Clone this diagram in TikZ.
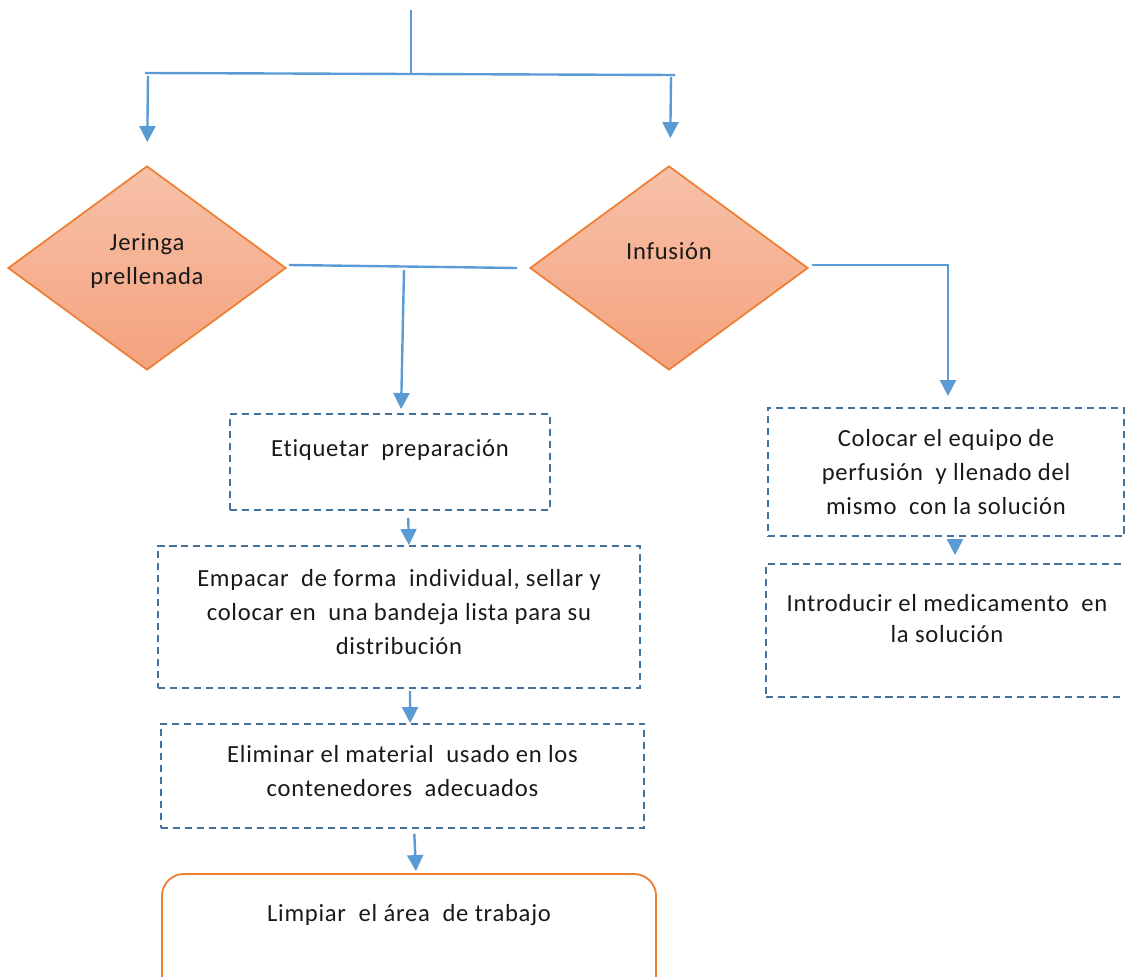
\documentclass[tikz,border=0pt]{standalone}
\usepackage{fontspec}
\setmainfont{Carlito}[Ligatures=CommonOff, LetterSpace=3]
\usetikzlibrary{
  arrows.meta,
  positioning,
  shapes.geometric
}
\definecolor{flow}{RGB}{91,155,213}
\definecolor{dashline}{RGB}{65,113,156}
\definecolor{accent}{RGB}{237,125,49}
\definecolor{fillhi}{RGB}{247,193,169}
\definecolor{filllo}{RGB}{244,162,125}

\begin{document}
\begin{tikzpicture}[
  x=0.025cm, y=-0.025cm,
  every node/.style={font=\fontsize{17.5}{24.5}\selectfont},
  decision/.style={diamond, draw=accent, line width=1.2pt, top color=fillhi, bottom color=filllo,
    minimum width=6.95cm, minimum height=5.1cm, inner sep=0pt},
  task/.style={draw=dashline, line width=1.3pt, dash pattern=on 5pt off 3.5pt},
  final/.style={draw=accent, line width=1.3pt, rounded corners=0.55cm},
  txt/.style={align=center, text=black!90},
  link/.style={draw=flow, line width=1.7pt},
  arr/.style={link, -{Triangle[width=0.4cm,length=0.4cm]}}
]
\clip (0,0) rectangle (1125,977);

% split at the top
\coordinate (top) at (411,10);
\coordinate (split) at (411,74);
\coordinate (hl) at (145,73);
\coordinate (hr) at (675,75);

\node[decision, label={[txt,yshift=0.175cm]center:{Jeringa\\prellenada}}] (syringe) at (147,268) {};
\node[decision, label={[txt,yshift=0.425cm]center:{Infusión}}] (infusion) at (669,268) {};

% left branch
\node[task, minimum width=8cm, minimum height=2.4cm,
  label={[txt,yshift=0.3cm]center:{Etiquetar\ \ preparación}}] (label) at (390,462) {};
\node[task, minimum width=12.05cm, minimum height=3.55cm,
  label={[txt,yshift=0.125cm]center:{Empacar\ \ de forma\ \ individual, sellar y\\colocar en\ \ una bandeja lista para su\\distribución}}] (pack) at (399,617) {};
\node[task, minimum width=12.075cm, minimum height=2.6cm,
  label={[txt,yshift=0.125cm]center:{Eliminar el material\ \ usado en los\\contenedores\ \ adecuados}}] (waste) at (402.5,776) {};
\node[final, minimum width=12.35cm, minimum height=3.4cm,
  label={[txt,yshift=0.675cm]center:{Limpiar\ \ el área\ \ de trabajo}}] (clean) at (409,942) {};

% right branch
\node[task, minimum width=8.9cm, minimum height=3.2cm,
  label={[txt]center:{Colocar el equipo de\\perfusión\ \ y llenado del\\mismo\ \ con la solución}}] (setup) at (946,472) {};
\node[task, minimum width=9.35cm, minimum height=3.325cm,
  label={[txt,yshift=0.29cm,xshift=-0.15cm,font=\fontsize{17.5}{22}\selectfont]center:{Introducir el medicamento\ \ en\\la solución}}] (inject) at (953,630.5) {};

% connectors
\draw[link] (top) -- (split);
\draw[link] (hl) -- (hr);
\draw[arr, shorten >=0.575cm] (hl -| syringe.north) ++(1,3) -- (syringe.north);
\draw[arr, shorten >=0.675cm] ([xshift=-0.1cm]hr) ++(0,2) -- ([xshift=0.025cm]infusion.north);

\coordinate (jend) at (517,268);
\coordinate (jdrop) at (404,270);
\draw[link] (syringe.east) ++(2,-3) -- (jend);
\draw[arr, shorten >=0.1cm] (jdrop) -- ([xshift=0.275cm]label.north);

\draw[arr, shorten >=0.275cm] (infusion.east) ++(3,-3) -| ([xshift=0.05cm]setup.north);

\draw[arr, shorten <=0.175cm] ([xshift=0.45cm]label.south) -- ([xshift=0.25cm]pack.north);
\draw[arr, shorten <=0.05cm] ([xshift=0.275cm]pack.south) -- ([xshift=0.19cm]waste.north);
\draw[arr, shorten <=0.125cm, shorten >=0.05cm] ([xshift=0.29cm]waste.south) -- ([xshift=0.175cm]clean.north);
\draw[arr, shorten <=0.1cm, shorten >=0.2cm] ([xshift=0.225cm]setup.south) -- ([xshift=0.05cm]inject.north);

\end{tikzpicture}
\end{document}
